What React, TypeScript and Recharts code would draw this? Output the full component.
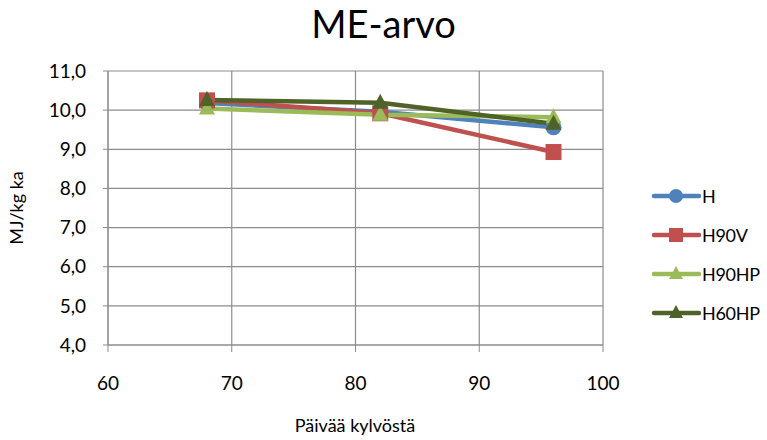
import { CartesianGrid, Line, LineChart, XAxis, YAxis } from "recharts";

const days = [68, 82, 96];
const seriesH = [10.18, 9.96, 9.56];
const seriesH90V = [10.25, 9.92, 8.93];
const seriesH90HP = [10.04, 9.88, 9.82];
const seriesH60HP = [10.26, 10.19, 9.65];

const xTicks = [60, 70, 80, 90, 100];
const yTicks = [4, 5, 6, 7, 8, 9, 10, 11];

const data = days.map((d, i) => ({
  day: d,
  H: seriesH[i],
  H90V: seriesH90V[i],
  H90HP: seriesH90HP[i],
  H60HP: seriesH60HP[i],
}));

const SERIES = [
  { key: "H", color: "#4F81BD", shape: "circle" },
  { key: "H90V", color: "#C0504D", shape: "square" },
  { key: "H90HP", color: "#9BBB59", shape: "triangle" },
  { key: "H60HP", color: "#4F6228", shape: "triangle" },
];

const FONT = "Lato, 'Open Sans', sans-serif";

const Marker = ({ shape, color, cx, cy, s = 8 }: any) => {
  if (cx == null || cy == null) return null;
  if (shape === "circle") return <circle cx={cx} cy={cy} r={s} fill={color} />;
  if (shape === "square")
    return <rect x={cx - s} y={cy - s} width={s * 2} height={s * 2} fill={color} />;
  return (
    <polygon
      points={`${cx},${cy - s - 1} ${cx - s},${cy + s - 2} ${cx + s},${cy + s - 2}`}
      fill={color}
    />
  );
};

const LegendBox = () => (
  <div
    style={{
      position: "absolute",
      left: 651,
      top: 176,
      width: 116,
      whiteSpace: "nowrap",
      fontFamily: FONT,
      fontSize: 18,
      letterSpacing: -0.3,
    }}
  >
    {SERIES.map((s) => (
      <div key={s.key} style={{ display: "flex", alignItems: "center", height: 39 }}>
        <svg width={50} height={20}>
          <line x1={3} y1={10} x2={48} y2={10} stroke={s.color} strokeWidth={4.5} strokeLinecap="round" />
          <Marker shape={s.shape} color={s.color} cx={25} cy={10} s={7} />
        </svg>
        <span style={{ marginLeft: 1 }}>{s.key}</span>
      </div>
    ))}
  </div>
);

export default function App() {
  return (
    <div
      style={{
        position: "absolute",
        left: 0,
        top: 0,
        width: 767,
        height: 440,
        overflow: "hidden",
        background: "#fff",
      }}
    >
      <div
        style={{
          position: "absolute",
          top: 0,
          left: 0,
          width: 767,
          textAlign: "center",
          fontFamily: FONT,
          fontSize: 38,
          color: "#000",
        }}
      >
        ME-arvo
      </div>
      <LineChart
        width={767}
        height={440}
        data={data}
        margin={{ top: 71, right: 164, bottom: 65, left: 0 }}
      >
        <CartesianGrid stroke="#8C8C8C" strokeWidth={1.2} />
        <XAxis
          dataKey="day"
          type="number"
          domain={[60, 100]}
          ticks={xTicks}
          stroke="#8C8C8C"
          tickSize={7}
          tickMargin={25}
          tick={{ fill: "#000", fontSize: 19, fontFamily: FONT }}
        />
        <YAxis
          type="number"
          domain={[4, 11]}
          ticks={yTicks}
          width={108}
          stroke="#8C8C8C"
          tickSize={5}
          tickMargin={17}
          tickFormatter={(v: number) => v.toFixed(1).replace(".", ",")}
          tick={{ fill: "#000", fontSize: 19, fontFamily: FONT }}
          label={{
            value: "MJ/kg ka",
            angle: -90,
            position: "insideLeft",
            offset: 17,
            fill: "#000",
            fontSize: 18,
            fontFamily: FONT,
            style: { textAnchor: "middle" },
          }}
        />
        {SERIES.map((s) => (
          <Line
            key={s.key}
            dataKey={s.key}
            stroke={s.color}
            strokeWidth={4.5}
            isAnimationActive={false}
            dot={(p: any) => <Marker key={`${s.key}-${p.index}`} shape={s.shape} color={s.color} cx={p.cx} cy={p.cy} />}
            activeDot={false}
          />
        ))}
      </LineChart>
      <div
        style={{
          position: "absolute",
          top: 414,
          left: 255,
          width: 200,
          textAlign: "center",
          fontFamily: FONT,
          fontSize: 18,
          color: "#000",
        }}
      >
        Päivää kylvöstä
      </div>
      <LegendBox />
    </div>
  );
}
